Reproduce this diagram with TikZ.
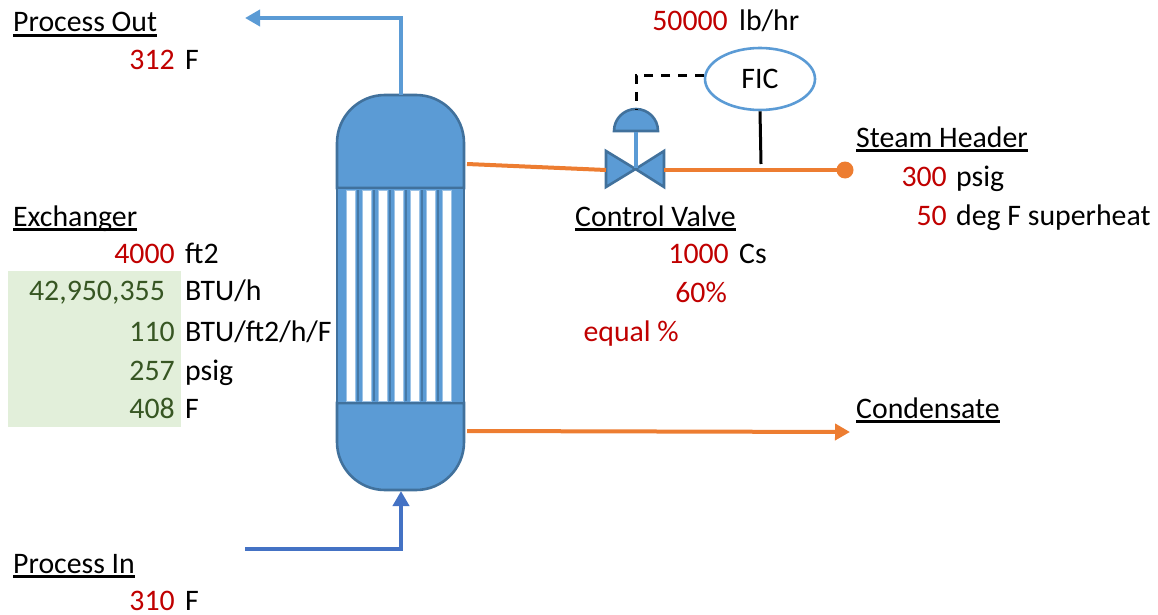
\documentclass[tikz,border=0pt]{standalone}
\usepackage{fontspec}
\setmainfont{Carlito}
\usetikzlibrary{arrows.meta, shapes.geometric}
\definecolor{shellblue}{HTML}{5B9BD5}
\definecolor{edgeblue}{HTML}{41719C}
\definecolor{feedblue}{HTML}{4472C4}
\definecolor{steamorange}{HTML}{ED7D31}
\definecolor{inputred}{HTML}{C00000}
\definecolor{calcgreen}{HTML}{375623}
\definecolor{calcfill}{HTML}{E2EFDA}
\newcommand{\headtext}[1]{\setbox0=\hbox{#1}\rlap{\rule[-4.6pt]{\wd0}{2.4pt}}\box0}
\tikzset{
  title/.style={anchor=base west, inner sep=0, text=black},
  val/.style={anchor=base east, inner sep=0, text=inputred},
  calc/.style={anchor=base east, inner sep=0, text=calcgreen},
  unit/.style={anchor=base west, inner sep=0, text=black},
  pipe/.style={line width=4pt, steamorange},
  part/.style={fill=shellblue, draw=edgeblue, line width=2.6pt, line join=miter}
}
\begin{document}
\begin{tikzpicture}[x=1pt, y=-1pt, font=\fontsize{29.8}{34}\selectfont, >={Triangle[length=15pt, width=16pt]}]
\useasboundingbox (0, 0) rectangle (1158, 615);

\fill[calcfill] (8, 271) rectangle (181, 427);

% vessel
\draw[part] (337, 188) -- (337, 143) arc[start angle=180, end angle=270, radius=48] -- (416, 95) arc[start angle=270, end angle=360, radius=48] -- (464, 188) -- cycle;
\draw[part] (337, 403) -- (337, 442) arc[start angle=180, end angle=90, radius=48] -- (416, 490) arc[start angle=90, end angle=0, radius=48] -- (464, 403) -- cycle;
\draw[part] (337, 188) rectangle (464, 403);
\foreach \tubex in {346, 362, 378, 394, 410, 426, 442} {
  \fill[white, draw=shellblue!60, line width=1pt] (\tubex, 190) rectangle ++(9.5, 211);
}
\foreach \wallx in {358, 374, 390, 406, 422, 438} {
  \draw[edgeblue!80!shellblue, line width=1.6pt] (\wallx, 190) -- ++(0, 211);
}
\draw[edgeblue, line width=2.6pt] (337, 188) -- (464, 188); %top sheet
\draw[edgeblue, line width=2.6pt] (337, 403) -- (464, 403); %bottom sheet

\coordinate (shelltop) at (401, 95);
\coordinate (shellbot) at (401, 491);
\coordinate (outend) at (245, 18);
\coordinate (inend) at (245, 549);
\coordinate (steamin) at (467, 164);
\coordinate (condout) at (467, 431);
\coordinate (condend) at (850, 432);

% valve
\coordinate (valveL) at (606, 170);
\coordinate (valveR) at (664, 170);
\coordinate (valveC) at (636, 168);
\coordinate (actbase) at (636, 132);
\coordinate (acttop) at (636, 110);
\draw[part] (606, 151) -- (635.5, 169) -- (606, 187) -- cycle;
\draw[part] (664, 151) -- (635.5, 169) -- (664, 187) -- cycle;
\draw[part] (614, 131) arc[start angle=180, end angle=360, radius=22] -- cycle;
\draw[shellblue, line width=3.6pt] (actbase) -- (valveC);

\node[ellipse, draw=shellblue, line width=2.6pt, minimum width=110pt, minimum height=62pt, inner sep=0] (fic) at (760, 79) {FIC};
\coordinate (ficdrop) at (761, 164);
\fill[steamorange] (845, 170) circle (8.5) coordinate (steamend);

\draw[line width=4pt, shellblue, ->] (shelltop) |- (outend);
\draw[line width=4pt, feedblue, ->] (inend) -| (shellbot);
\draw[pipe] (steamin) -- (valveL);
\draw[pipe] (valveR) -- (steamend);
\draw[pipe, ->] (condout) -- (condend);
\draw[black, line width=3pt, dash pattern=on 9pt off 8pt] (fic.176) -| (acttop);
\draw[black, line width=3pt] (fic.south) -- (ficdrop);

% labels
\node[title] (outname) at (13, 32) {\headtext{Process Out}};
\node[val] (outT) at (175, 70) {312};
\node[unit] (outTu) at (185, 70) {F};

\node[title] (exname) at (13, 226) {\headtext{Exchanger}};
\node[val] (exA) at (175, 263) {4000};
\node[unit] (exAu) at (185, 263) {ft2};
\node[calc] (exQ) at (165, 300) {42,950,355};
\node[unit] (exQu) at (185, 300) {BTU/h};
\node[calc] (exU) at (175, 341) {110};
\node[unit] (exUu) at (185, 341) {BTU/ft2/h/F};
\node[calc] (exP) at (175, 380) {257};
\node[unit] (exPu) at (185, 380) {psig};
\node[calc] (exT) at (175, 418) {408};
\node[unit] (exTu) at (185, 418) {F};

\node[title] (inname) at (13, 573) {\headtext{Process In}};
\node[val] (inT) at (175, 610) {310};
\node[unit] (inTu) at (185, 610) {F};

\node[val] (flow) at (728, 31) {50000};
\node[unit] (flowu) at (739, 31) {lb/hr};

\node[title] (cvname) at (575, 226) {\headtext{Control Valve}};
\node[val] (cvCs) at (729, 263) {1000};
\node[unit] (cvCsu) at (739, 263) {Cs};
\node[val] (cvopen) at (727, 302) {60\%};
\node[val] (cvtrim) at (679, 341) {equal \%};

\node[title] (stname) at (856, 147) {\headtext{Steam Header}};
\node[val] (stP) at (947, 186) {300};
\node[unit] (stPu) at (956, 186) {psig};
\node[val] (stS) at (947, 225) {50};
\node[unit] (stSu) at (956, 225) {deg F superheat};

\node[title] (condname) at (856, 418) {\headtext{Condensate}};
\end{tikzpicture}
\end{document}
